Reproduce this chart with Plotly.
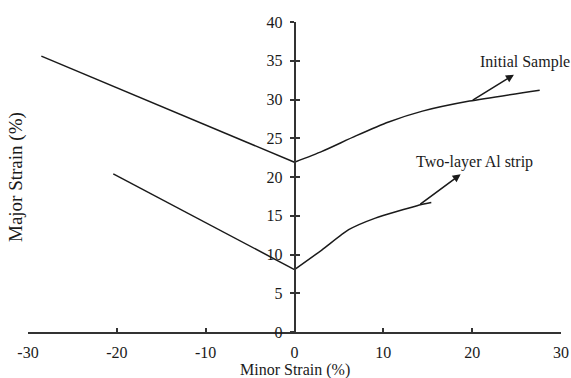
import plotly.graph_objects as go

# Data
initial_x = [-28.5, 0.0, 3.1, 6.9, 10.6, 14.4, 19.7, 27.6]
initial_y = [35.6, 21.9, 23.3, 25.3, 27.1, 28.5, 29.8, 31.2]

twolayer_x = [-20.4, 0.0, 3.1, 6.1, 9.1, 13.8, 15.4]
twolayer_y = [20.4, 8.05, 10.6, 13.2, 14.7, 16.3, 16.7]

x_ticks = [-30, -20, -10, 0, 10, 20, 30]
y_ticks = [0, 5, 10, 15, 20, 25, 30, 35, 40]

labels = ["Initial Sample", "Two-layer Al strip"]
label_x = [26.0, 20.3]
label_y = [34.8, 22.0]
arrow_tail_x = [19.9, 14.0]
arrow_tail_y = [29.8, 16.35]
arrow_head_x = [24.7, 18.7]
arrow_head_y = [33.2, 20.35]

FONT = "Liberation Serif"
INK = "#1a1a1a"
AXC = "#333333"

fig = go.Figure()
series = [(initial_x, initial_y, labels[0], "y"), (twolayer_x, twolayer_y, labels[1], "y2")]
for xs, ys, name, yax in series:
    # straight branch on the negative side, smooth branch on the positive side
    fig.add_trace(go.Scatter(x=xs[:2], y=ys[:2], mode="lines",
                             line=dict(color=INK, width=1.5),
                             name=name, xaxis="x", yaxis=yax))
    fig.add_trace(go.Scatter(x=xs[1:], y=ys[1:], mode="lines",
                             line=dict(color=INK, width=1.5, shape="spline", smoothing=0.6),
                             name=name, xaxis="x", yaxis=yax))

annotations = []
for i, t in enumerate(labels):
    annotations.append(dict(x=label_x[i], y=label_y[i], xref="x", yref="y",
                            text=t, showarrow=False,
                            font=dict(family=FONT, size=16, color=INK)))
    annotations.append(dict(x=arrow_head_x[i], y=arrow_head_y[i], xref="x", yref="y",
                            ax=arrow_tail_x[i], ay=arrow_tail_y[i], axref="x", ayref="y",
                            text="", showarrow=True, arrowhead=2, arrowsize=1,
                            arrowwidth=1.6, arrowcolor=INK, standoff=0, startstandoff=0))
annotations.append(dict(x=-0.0225, y=0.5, xref="paper", yref="paper",
                        xanchor="center", yanchor="middle",
                        text="Major Strain (%)", textangle=-90, showarrow=False,
                        font=dict(family=FONT, size=19, color=INK)))
annotations.append(dict(x=0.5, y=-0.121, xref="paper", yref="paper",
                        xanchor="center", yanchor="middle",
                        text="Minor Strain (%)", showarrow=False,
                        font=dict(family=FONT, size=16, color=INK)))

fig.update_layout(
    width=571, height=378,
    margin=dict(l=28, r=10, t=22, b=46, autoexpand=False),
    paper_bgcolor="white", plot_bgcolor="white",
    showlegend=False,
    font=dict(family=FONT, size=16, color=INK),
    xaxis=dict(range=[-30, 30], tickvals=x_ticks, ticktext=[str(v) for v in x_ticks],
               showgrid=False, zeroline=False, showline=True, linecolor=AXC, linewidth=2,
               ticks="inside", ticklen=4, tickwidth=1.5, tickcolor=AXC,
               ticklabelstandoff=5, automargin=False, fixedrange=True),
    yaxis=dict(range=[0, 40], tickvals=y_ticks, anchor="free", position=0.5,
               showgrid=False, zeroline=False, showline=True, linecolor=AXC, linewidth=1.5,
               ticks="outside", ticklen=4, tickwidth=1.5, tickcolor=AXC,
               ticklabelstandoff=4, automargin=False, fixedrange=True),
    yaxis2=dict(range=[0, 40], tickvals=y_ticks, anchor="free", position=0.5,
                overlaying="y", showticklabels=False, automargin=False,
                showgrid=False, zeroline=False, showline=False,
                ticks="inside", ticklen=4, tickwidth=1.5, tickcolor=AXC, fixedrange=True),
    annotations=annotations,
)

fig.write_html("out.html",
               config={"displayModeBar": False},
               post_script="document.body.style.margin='0px';"
                           "document.body.style.overflow='hidden';")
